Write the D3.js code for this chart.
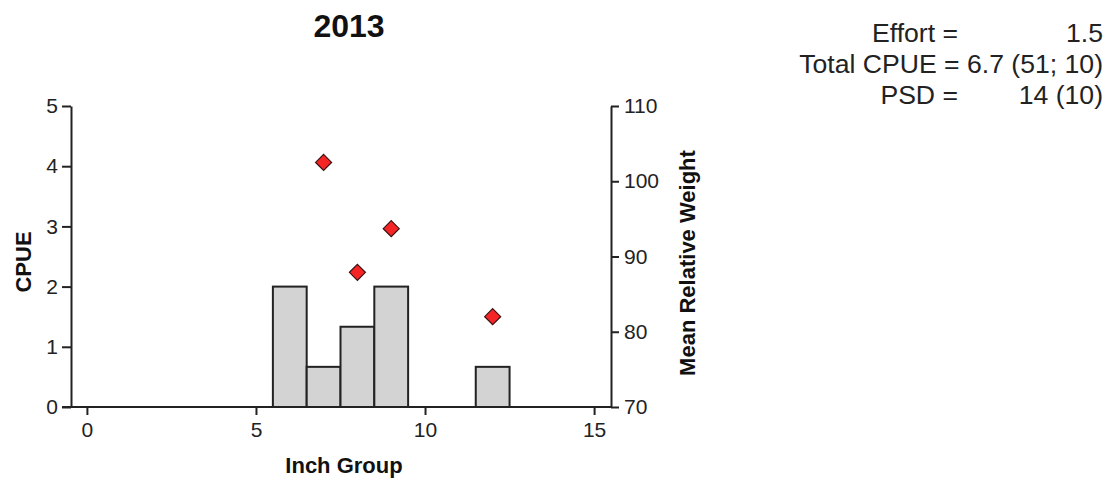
<!DOCTYPE html>
<html>
<head>
<meta charset="utf-8">
<script src="https://cdn.jsdelivr.net/npm/d3@7"></script>
<style>
  html, body { margin: 0; padding: 0; background: #fff; }
  svg { display: block; font-family: "Liberation Sans", Arial, sans-serif; }
</style>
</head>
<body>
<svg id="chart" width="1110" height="483"></svg>
<script>
// ---- data ----
const title = "2013";
const inchGroups = [6, 7, 8, 9, 12];
const cpueValues = [2, 0.667, 1.333, 2, 0.667];
const wrGroups = [7, 8, 9, 12];
const wrValues = [102.5, 87.9, 93.7, 82.0];
const xTicks = [0, 5, 10, 15];
const yLeftTicks = [0, 1, 2, 3, 4, 5];
const yRightTicks = [70, 80, 90, 100, 110];
const statLabels = ["Effort =", "Total CPUE =", "PSD ="];
const statValues = ["1.5", "6.7 (51; 10)", "14 (10)"];

// ---- layout ----
const svg = d3.select("#chart");
const L = 71, R = 611, T = 106, B = 407;
const axisColor = "#222";

const x = d3.scaleLinear().domain([-0.5, 15.5]).range([L - 1, R]);
const yL = d3.scaleLinear().domain([0, 5]).range([B, T]);
const yR = d3.scaleLinear().domain([70, 110]).range([B, T]);

// bars
const bw = x(1) - x(0);
svg.append("g").selectAll("rect")
  .data(inchGroups.map((g, i) => ({ g, v: cpueValues[i] })))
  .join("rect")
  .attr("x", d => x(d.g) - bw / 2)
  .attr("width", bw)
  .attr("y", d => yL(d.v))
  .attr("height", d => yL(0) - yL(d.v))
  .attr("fill", "#d3d3d3")
  .attr("stroke", axisColor)
  .attr("stroke-width", 2);

// axes
function styleAxis(g) {
  g.selectAll("path.domain").attr("stroke", axisColor).attr("stroke-width", 2);
  g.selectAll(".tick line").attr("stroke", axisColor).attr("stroke-width", 2);
  g.selectAll(".tick text").attr("fill", "#222")
    .style("font-size", "21px").style("font-family", "'Liberation Sans', Arial, sans-serif");
}

const fmt = d3.format("d");
const gx = svg.append("g").attr("transform", `translate(0,${B})`)
  .call(d3.axisBottom(x).tickValues(xTicks).tickFormat(fmt).tickSize(8).tickSizeOuter(0).tickPadding(7));
styleAxis(gx);
gx.select("path.domain").attr("d", `M${L - 9},0H${R}`);

const gyl = svg.append("g").attr("transform", `translate(${L},0)`)
  .call(d3.axisLeft(yL).tickValues(yLeftTicks).tickFormat(fmt).tickSize(9).tickSizeOuter(0).tickPadding(4));
styleAxis(gyl);

const gyr = svg.append("g").attr("transform", `translate(${R},0)`)
  .call(d3.axisRight(yR).tickValues(yRightTicks).tickFormat(fmt).tickSize(8).tickSizeOuter(0).tickPadding(5));
styleAxis(gyr);

// diamonds
const ds = 8;
svg.append("g").selectAll("path")
  .data(wrGroups.map((g, i) => ({ g, v: wrValues[i] })))
  .join("path")
  .attr("transform", d => `translate(${x(d.g)},${yR(d.v)})`)
  .attr("d", `M0,${-ds}L${ds},0L0,${ds}L${-ds},0Z`)
  .attr("fill", "#f52525")
  .attr("stroke", "#3a1010")
  .attr("stroke-width", 1.2);

// title
svg.append("text").attr("x", 349).attr("y", 37)
  .attr("text-anchor", "middle").style("font-size", "32px").style("font-weight", "bold")
  .attr("fill", "#111").text(title);

// axis titles
svg.append("text").attr("x", 344).attr("y", 473)
  .attr("text-anchor", "middle").style("font-size", "22px").style("font-weight", "bold")
  .attr("fill", "#111").text("Inch Group");
svg.append("text").attr("transform", "translate(31,262) rotate(-90)")
  .attr("text-anchor", "middle").style("font-size", "22px").style("font-weight", "bold")
  .attr("fill", "#111").text("CPUE");
svg.append("text").attr("transform", "translate(695,263) rotate(-90)")
  .attr("text-anchor", "middle").style("font-size", "22px").style("font-weight", "bold")
  .attr("fill", "#111").text("Mean Relative Weight");

// stats block
const stats = svg.append("g");
statLabels.forEach((lab, i) => {
  const yy = 42 + i * 31;
  if (i === 1) {
    stats.append("text").attr("x", 1103).attr("y", yy).attr("text-anchor", "end")
      .style("font-size", "26.6px").attr("fill", "#222").text(lab + " " + statValues[i]);
  } else {
    stats.append("text").attr("x", 958).attr("y", yy).attr("text-anchor", "end")
      .style("font-size", "26.6px").attr("fill", "#222").text(lab);
    stats.append("text").attr("x", 1103).attr("y", yy).attr("text-anchor", "end")
      .style("font-size", "26.6px").attr("fill", "#222").text(statValues[i]);
  }
});
</script>
</body>
</html>
